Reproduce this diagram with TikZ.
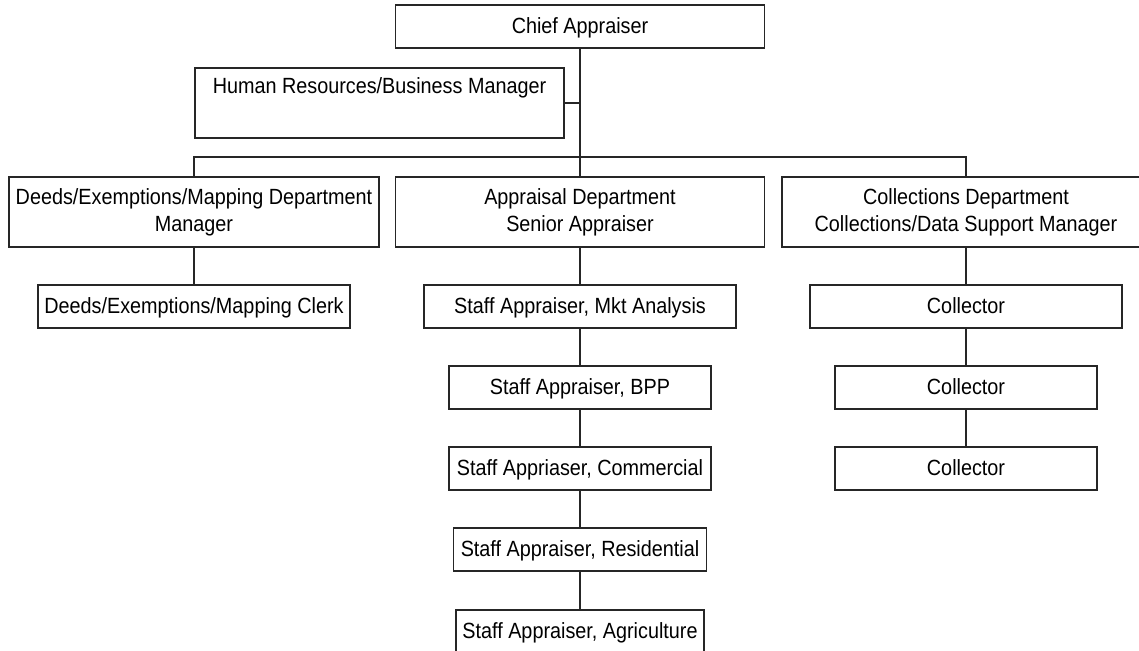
\documentclass[tikz,border=0pt]{standalone}
\usepackage{fontspec}
\setmainfont{Liberation Sans}[FakeStretch=0.9]
\begin{document}
\begin{tikzpicture}[x=1pt,y=-1pt,
  box/.style={draw=black!85, line width=1.3pt, fill=white, inner sep=0pt, align=center,
    font=\fontsize{22}{26.7}\selectfont, minimum height=43pt},
  single/.style={box, text height=15pt, text depth=1.2pt},
  tall/.style={box, minimum height=70pt},
  link/.style={draw=black!85, line width=1.3pt}]
\useasboundingbox (0,0) rectangle (1139,650);
\clip (0,0) rectangle (1139,650);
% nodes
\node[single, minimum width=369pt] (chief) at (580,26.5) {Chief Appraiser};
\node[tall, minimum width=369pt] (hr) at (379.5,103) {Human Resources/Business Manager\\\strut};
\node[tall, minimum width=370pt] (deedsm) at (194,212) {Deeds/Exemptions/Mapping Department\\Manager};
\node[tall, minimum width=369pt] (apprm) at (580,212) {Appraisal Department\\Senior Appraiser};
\node[tall, minimum width=368pt] (collm) at (966,212) {Collections Department\\Collections/Data Support Manager};
\node[single, minimum width=312pt] (clerk) at (194,306.5) {Deeds/Exemptions/Mapping Clerk};
\node[single, minimum width=312pt] (mkt) at (580,306.5) {Staff Appraiser, Mkt Analysis};
\node[single, minimum width=262pt] (bpp) at (580,387.5) {Staff Appraiser, BPP};
\node[single, minimum width=262pt] (comm) at (580,468.5) {Staff Appriaser, Commercial};
\node[single, minimum width=253pt] (res) at (580,549.5) {Staff Appraiser, Residential};
\node[single, minimum width=248pt] (agr) at (580,631.5) {Staff Appraiser, Agriculture};
\node[single, minimum width=312pt] (coll1) at (966,306.5) {Collector};
\node[single, minimum width=262pt] (coll2) at (966,387.5) {Collector};
\node[single, minimum width=262pt] (coll3) at (966,468.5) {Collector};
\coordinate (bus) at (580,157);
% connectors
\draw[link] (chief.south) -- (chief.south |- apprm.north);
\draw[link] (hr.east) -- (hr.east -| chief.south);
\draw[link] (deedsm.north) |- (bus) -| (collm.north);
\draw[link] (deedsm.south) -- (deedsm.south |- clerk.north);
\draw[link] (apprm.south) -- (apprm.south |- mkt.north);
\draw[link] (mkt.south) -- (mkt.south |- bpp.north);
\draw[link] (bpp.south) -- (bpp.south |- comm.north);
\draw[link] (comm.south) -- (comm.south |- res.north);
\draw[link] (res.south) -- (res.south |- agr.north);
\draw[link] (collm.south) -- (collm.south |- coll1.north);
\draw[link] (coll1.south) -- (coll1.south |- coll2.north);
\draw[link] (coll2.south) -- (coll2.south |- coll3.north);
\end{tikzpicture}
\end{document}
